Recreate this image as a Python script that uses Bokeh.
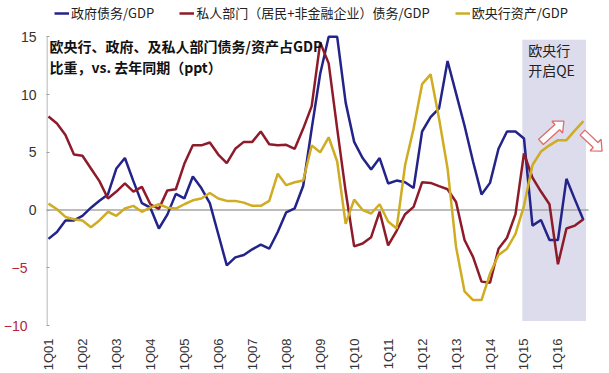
import numpy as np
from bokeh.plotting import figure
from bokeh.models import (Range1d, FixedTicker, Legend, LegendItem, Label, LinearAxis)
from bokeh.embed import file_html
from bokeh.resources import INLINE

# ---------------- data ----------------
year_labels = ["1Q01", "1Q02", "1Q03", "1Q04", "1Q05", "1Q06", "1Q07", "1Q08",
               "1Q09", "1Q10", "1Q11", "1Q12", "1Q13", "1Q14", "1Q15", "1Q16"]

gov_debt = [-2.5, -1.9, -0.9, -0.9, -0.5, 0.2, 0.8, 1.35, 3.6, 4.5, 2.5, 0.6, 0.2, -1.6, -0.4, 1.4,
            1.0, 2.9, 1.9, 0.6, -2.1, -4.8, -4.1, -3.9, -3.4, -3.0, -3.35, -1.9, -0.2, 0.15, 2.1, 7.05,
            11.8, 15.0, 15.0, 9.3, 5.9, 4.5, 3.5, 4.5, 2.3, 2.55, 2.4, 1.9, 6.8, 8.05, 8.8, 12.9,
            10.1, 7.3, 4.2, 1.35, 2.35, 5.3, 6.8, 6.8, 6.2, -1.35, -0.87, -2.6, -2.6, 2.7, 0.9, -0.87]

private_debt = [8.1, 7.5, 6.5, 4.8, 4.7, 3.6, 2.5, 1.0, 1.6, 2.3, 1.6, 2.0, 0.5, 0.1, 1.7, 1.8,
                4.0, 5.6, 5.6, 5.85, 4.8, 4.06, 5.3, 5.9, 5.9, 6.8, 5.7, 5.6, 5.65, 5.3, 7.05, 9.0,
                14.5, 12.7, 7.05, 1.6, -3.15, -2.9, -2.35, -0.13, -3.06, -1.8, -0.36, 0.27, 2.4, 2.35, 2.07, 1.8,
                0.7, -2.6, -4.06, -6.2, -6.3, -3.35, -2.4, -0.36, 4.9, 2.8, 1.6, 0.5, -4.7, -1.6, -1.35, -0.8]

ecb_assets = [0.55, 0.07, -0.6, -0.8, -0.9, -1.5, -0.9, -0.15, -0.5, 0.13, 0.36, -0.15, 0.2, 0.5, 0.2, 0.13,
              0.5, 0.84, 1.0, 1.47, 1.0, 0.79, 0.79, 0.64, 0.36, 0.36, 0.79, 3.15, 2.15, 2.4, 2.55, 5.6,
              5.0, 6.3, 4.2, -1.2, 0.9, 0.0, -0.3, 0.5, -1.0, -1.6, 3.9, 7.05, 10.9, 11.75, 7.9, 3.6,
              -3.2, -7.05, -7.8, -7.8, -5.5, -3.9, -3.35, -2.07, 0.36, 3.9, 5.06, 5.6, 6.05, 6.05, 6.9, 7.7]

series_names = ["政府债务/GDP", "私人部门（居民+非金融企业）债务/GDP", "欧央行资产/GDP"]
series_colors = ["#23238a", "#8e1b2a", "#cfac22"]
y_ticks = [-10, -5, 0, 5, 10, 15]
qe_start_label = "1Q15"

# arrows: (tail_x, tail_y, head_x, head_y) in data units
arrows = [(58.0, 5.9, 60.7, 7.7), (62.9, 6.7, 65.2, 5.1)]

# ---------------- figure ----------------
n = len(gov_debt)
x = np.arange(n)
X0, X1 = -0.233, 65.6
Y_MIN, Y_MAX = y_ticks[0], y_ticks[-1]
Y1_VIEW = 17.97  # extra headroom above the axis for the legend

p = figure(width=609, height=373, output_backend="svg", toolbar_location=None,
           x_range=Range1d(X0, X1), y_range=Range1d(Y_MIN, Y1_VIEW),
           min_border_left=40, min_border_right=4, min_border_top=2, min_border_bottom=46)
p.outline_line_color = None
p.grid.grid_line_color = None
p.background_fill_color = "white"

# QE shaded region
qe_idx = year_labels.index(qe_start_label) * 4
p.quad(left=[qe_idx - 0.2], right=[n - 1 + 0.3], bottom=[-9.6], top=[14.75],
       fill_color="#dcdcec", line_color=None)

# zero line and value-axis line (axis spans -10..15 only)
p.segment(x0=[X0], y0=[0], x1=[n - 1 + 0.6], y1=[0], line_color="#a6a6a6", line_width=1.6)
p.segment(x0=[X0 + 0.06], y0=[Y_MIN], x1=[X0 + 0.06], y1=[Y_MAX], line_color="#a0a0a0", line_width=1)

renderers = []
for data, col in zip([gov_debt, private_debt, ecb_assets], series_colors):
    r = p.line(x, data, line_color=col, line_width=2.5)
    renderers.append(r)

# hollow block arrows
px_x = 8.58  # px per index
px_y = 11.62  # px per unit
axs, ays = [], []
for (tx, ty, hx, hy) in arrows:
    sx0, sy0, sx1, sy1 = tx * px_x, ty * px_y, hx * px_x, hy * px_y
    dx, dy = sx1 - sx0, sy1 - sy0
    L = np.hypot(dx, dy)
    ux, uy = dx / L, dy / L
    nx, ny = -uy, ux
    sw, hw, hl = 3.5, 8.0, 9.0
    bx, by = sx1 - ux * hl, sy1 - uy * hl
    pts = [(sx0 + nx * sw, sy0 + ny * sw), (bx + nx * sw, by + ny * sw), (bx + nx * hw, by + ny * hw),
           (sx1, sy1), (bx - nx * hw, by - ny * hw), (bx - nx * sw, by - ny * sw),
           (sx0 - nx * sw, sy0 - ny * sw)]
    axs.append([pt[0] / px_x for pt in pts])
    ays.append([pt[1] / px_y for pt in pts])
p.patches(axs, ays, fill_color="white", line_color="#e06a6a", line_width=1.3)

# x axis
p.xaxis.ticker = FixedTicker(ticks=[i * 4 for i in range(len(year_labels))])
p.xaxis.major_label_overrides = {i * 4: lab for i, lab in enumerate(year_labels)}
p.xaxis.major_label_orientation = np.pi / 2
p.xaxis.axis_line_color = None
p.xaxis.major_tick_line_color = None
p.xaxis.minor_tick_line_color = None
p.xaxis.major_label_text_font = "Liberation Sans"
p.xaxis.major_label_text_font_size = "13px"
p.xaxis.major_label_text_color = "#333333"
p.xaxis.major_label_standoff = 7

# y axis (non-negative labels in dark grey)
p.yaxis.ticker = FixedTicker(ticks=y_ticks)
p.yaxis.major_label_overrides = {t: ("" if t < 0 else str(t)) for t in y_ticks}
p.yaxis.axis_line_color = None
p.yaxis.major_tick_line_color = "#a0a0a0"
p.yaxis.major_tick_in = 3
p.yaxis.major_tick_out = 0
p.yaxis.minor_tick_line_color = None
p.yaxis.major_label_text_font = "Liberation Sans"
p.yaxis.major_label_text_font_size = "14px"
p.yaxis.major_label_text_color = "#333333"
p.yaxis.major_label_standoff = 10

# second left axis carrying the red negative labels
neg_axis = LinearAxis(ticker=FixedTicker(ticks=[t for t in y_ticks if t < 0]))
neg_axis.axis_line_color = None
neg_axis.major_tick_line_color = None
neg_axis.minor_tick_line_color = None
neg_axis.major_label_text_font = "Liberation Sans"
neg_axis.major_label_text_font_size = "14px"
neg_axis.major_label_text_color = "#b3263a"
neg_axis.major_label_standoff = -16
p.add_layout(neg_axis, "left")

# title inside plot
p.add_layout(Label(x=X0, x_offset=3, y=15.1, text="欧央行、政府、及私人部门债务/资产占GDP\n比重，vs. 去年同期（ppt）",
                   text_align="left", text_baseline="top", text_font="Noto Sans CJK SC",
                   text_font_size="14px", text_font_style="bold", text_color="#111111",
                   text_line_height=1.05))

# QE annotation
p.add_layout(Label(x=56.5, y=14.7, text="欧央行\n开启QE", text_align="left", text_baseline="top",
                   text_font="Noto Sans CJK SC", text_font_size="14px", text_color="#222222",
                   text_line_height=1.0))

legend = Legend(items=[LegendItem(label=nm, renderers=[r]) for nm, r in zip(series_names, renderers)],
                location=(8, 303), orientation="horizontal", background_fill_alpha=0,
                border_line_color=None, label_text_font="Noto Sans CJK SC",
                label_text_font_size="13px", label_text_color="#222222", glyph_width=15,
                glyph_height=16, label_height=16, label_standoff=2, spacing=25, padding=0, margin=0)
p.add_layout(legend)

open("out.html", "w").write(file_html(p, INLINE))
